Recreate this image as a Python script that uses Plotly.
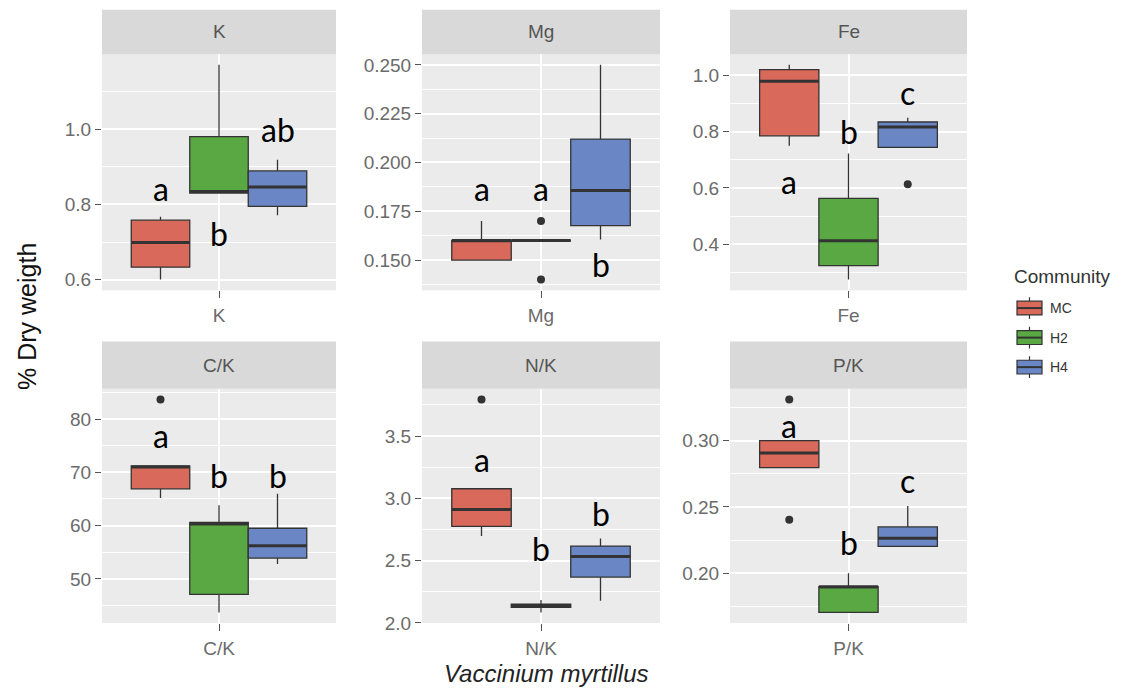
import plotly.graph_objects as go

# ---- data -------------------------------------------------------------
panels = ["K", "Mg", "Fe", "C/K", "N/K", "P/K"]
communities = ["MC", "H2", "H4"]
fills = ["#D9695B", "#5AA843", "#6B86C5"]

# box statistics per panel; inner lists follow communities (MC, H2, H4)
q1 = [[0.633, 0.830, 0.795], [0.150, 0.160, 0.1677], [0.785, 0.324, 0.744],
      [66.9, 47.1, 53.9], [2.775, 2.125, 2.368], [0.2797, 0.1706, 0.2203]]
median = [[0.699, 0.834, 0.846], [0.160, 0.160, 0.1856], [0.979, 0.412, 0.816],
          [71.0, 60.3, 56.2], [2.911, 2.140, 2.533], [0.2907, 0.190, 0.2265]]
q3 = [[0.758, 0.980, 0.889], [0.160, 0.160, 0.212], [1.020, 0.563, 0.834],
      [71.2, 60.6, 59.5], [3.077, 2.152, 2.617], [0.300, 0.190, 0.235]]
lower = [[0.600, 0.830, 0.771], [0.150, 0.160, 0.1606], [0.750, 0.274, 0.744],
         [65.2, 43.7, 52.8], [2.699, 2.085, 2.179], [0.2797, 0.1706, 0.2203]]
upper = [[0.767, 1.171, 0.919], [0.170, 0.160, 0.250], [1.037, 0.722, 0.849],
         [71.2, 63.8, 66.0], [3.077, 2.184, 2.678], [0.300, 0.200, 0.2507]]
outliers = [[[], [], []], [[], [0.170, 0.140], []], [[], [], [0.613]],
            [[83.7], [], []], [[3.794], [], []], [[0.331, 0.2404], [], []]]

# significance letters and the height they are written at
letters = [["a", "b", "ab"], ["a", "a", "b"], ["a", "b", "c"],
           ["a", "b", "b"], ["a", "b", "b"], ["a", "b", "c"]]
letter_y = [[0.842, 0.723, 1.000], [0.1868, 0.1868, 0.148], [0.621, 0.800, 0.940],
            [76.9, 69.5, 69.5], [3.308, 2.599, 2.875], [0.3115, 0.2233, 0.2699]]

# y tick spacing and label format per panel
tick_step = [0.2, 0.025, 0.2, 10, 0.5, 0.05]
tick_fmt = [".1f", ".3f", ".1f", "d", ".1f", ".2f"]

# ---- layout geometry --------------------------------------------------
W, H = 1122, 699
col_px = [(102, 336), (422, 660), (730, 967)]
row_px = [(55, 295), (395, 633)]          # plot area top / bottom
strip_px = [(10, 55), (347, 395)]         # strip top / bottom
dodge = 0.3
box_w = 0.3
outline = "#333333"
tick_font = dict(family="Liberation Sans", size=19, color="#6B6B6B")

fig = go.Figure()
layout_axes = {}
shapes = []
annotations = []

for p, name in enumerate(panels):
    r, c = divmod(p, 3)
    sx = "" if p == 0 else str(p + 1)
    xref, yref = "x" + sx, "y" + sx

    for g, comm in enumerate(communities):
        pos = 1 + (g - 1) * dodge
        fig.add_trace(go.Box(
            x=[pos], q1=[q1[p][g]], median=[median[p][g]], q3=[q3[p][g]],
            lowerfence=[lower[p][g]], upperfence=[upper[p][g]],
            width=box_w, whiskerwidth=0, boxpoints=False,
            fillcolor=fills[g], line=dict(color=outline, width=1.3),
            name=comm, showlegend=False,
            xaxis=xref, yaxis=yref, hoverinfo="skip"))
        # thicker median bar
        fig.add_trace(go.Scatter(
            x=[pos - box_w / 2, pos + box_w / 2], y=[median[p][g]] * 2,
            mode="lines", line=dict(color=outline, width=3),
            showlegend=False, xaxis=xref, yaxis=yref, hoverinfo="skip"))
        if outliers[p][g]:
            fig.add_trace(go.Scatter(
                x=[pos] * len(outliers[p][g]), y=outliers[p][g], mode="markers",
                marker=dict(color=outline, size=8),
                showlegend=False, xaxis=xref, yaxis=yref, hoverinfo="skip"))
        annotations.append(dict(
            x=pos, y=letter_y[p][g], xref=xref, yref=yref, text=letters[p][g],
            showarrow=False, font=dict(family="Lato", size=32, color="#000000"),
            xanchor="center", yanchor="middle"))

    # y range: whisker/outlier span with 5% padding
    vals = lower[p] + upper[p] + [v for grp in outliers[p] for v in grp]
    lo, hi = min(vals), max(vals)
    pad = 0.05 * (hi - lo)

    x0, x1 = col_px[c]
    ytop, ybot = row_px[r]
    xdom = [x0 / W, x1 / W]
    ydom = [1 - ybot / H, 1 - ytop / H]

    layout_axes["xaxis" + sx] = dict(
        domain=xdom, anchor=yref, range=[0.4, 1.6],
        tickvals=[1], ticktext=[name], ticks="outside", ticklen=7,
        tickcolor="#555555", tickfont=tick_font, ticklabelstandoff=1,
        showgrid=True, gridcolor="white", gridwidth=1.5, zeroline=False,
        showline=False, fixedrange=True)
    layout_axes["yaxis" + sx] = dict(
        domain=ydom, anchor=xref, range=[lo - pad, hi + pad],
        tick0=0, dtick=tick_step[p], tickformat=tick_fmt[p],
        ticks="outside", ticklen=6, tickcolor="#555555", tickfont=tick_font,
        showgrid=True, gridcolor="white", gridwidth=1.5, zeroline=False,
        minor=dict(tick0=0, dtick=tick_step[p] / 2, showgrid=True,
                   gridcolor="white", gridwidth=0.7, ticks=""),
        showline=False, fixedrange=True)

    # facet strip
    st, sb = strip_px[r]
    shapes.append(dict(type="rect", xref="paper", yref="paper",
                       x0=x0 / W, x1=x1 / W, y0=1 - sb / H, y1=1 - st / H,
                       fillcolor="#D9D9D9", line=dict(width=0), layer="below"))
    annotations.append(dict(x=(x0 + x1) / 2 / W, y=1 - (st + sb) / 2 / H,
                            xref="paper", yref="paper", text=name, showarrow=False,
                            font=dict(family="Liberation Sans", size=19, color="#555555"),
                            xanchor="center", yanchor="middle"))

# axis titles
annotations.append(dict(x=27 / W, y=1 - 322 / H, xref="paper", yref="paper",
                        text="% Dry weigth", textangle=-90, showarrow=False,
                        font=dict(family="Liberation Sans", size=25, color="#111111"),
                        xanchor="center", yanchor="middle"))
annotations.append(dict(x=546 / W, y=0, xref="paper", yref="paper",
                        text="<i>Vaccinium myrtillus</i>", showarrow=False,
                        font=dict(family="Liberation Sans", size=24, color="#222222"),
                        xanchor="center", yanchor="bottom", borderpad=0))

# legend: title plus one boxplot key per community
key_x0, key_x1 = 1017, 1042
key_rows = [313, 343, 373]
annotations.append(dict(x=1012 / W, y=1 - 281 / H, xref="paper", yref="paper",
                        text="Community", showarrow=False,
                        font=dict(family="Liberation Sans", size=19, color="#333333"),
                        xanchor="left", yanchor="middle"))
for g, comm in enumerate(communities):
    yc = key_rows[g]
    xm = (key_x0 + key_x1) / 2
    for ya, yb in ((yc - 11, yc - 7), (yc + 7, yc + 11)):
        shapes.append(dict(type="line", xref="paper", yref="paper",
                           x0=xm / W, x1=xm / W, y0=1 - ya / H, y1=1 - yb / H,
                           line=dict(color=outline, width=1.2)))
    shapes.append(dict(type="rect", xref="paper", yref="paper",
                       x0=key_x0 / W, x1=key_x1 / W,
                       y0=1 - (yc + 7) / H, y1=1 - (yc - 7) / H,
                       fillcolor=fills[g], line=dict(color=outline, width=1.2)))
    shapes.append(dict(type="line", xref="paper", yref="paper",
                       x0=key_x0 / W, x1=key_x1 / W, y0=1 - yc / H, y1=1 - yc / H,
                       line=dict(color=outline, width=2)))
    annotations.append(dict(x=1048 / W, y=1 - yc / H, xref="paper", yref="paper",
                            text=comm, showarrow=False,
                            font=dict(family="Liberation Sans", size=14, color="#333333"),
                            xanchor="left", yanchor="middle"))

fig.update_layout(
    width=W, height=H, margin=dict(l=0, r=0, t=0, b=0),
    paper_bgcolor="white", plot_bgcolor="#EBEBEB",
    boxmode="overlay", shapes=shapes, annotations=annotations,
    showlegend=False, **layout_axes)

fig.write_html("out.html")
